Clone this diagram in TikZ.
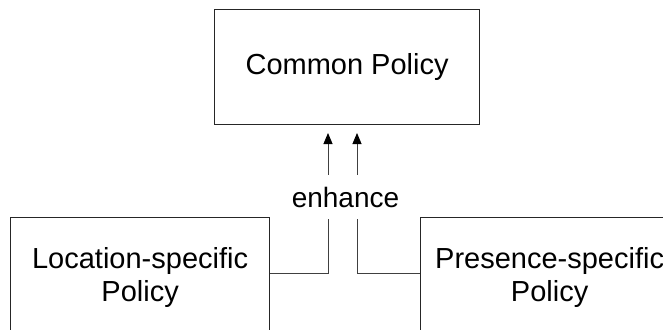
\documentclass[tikz,border=0pt]{standalone}
\usepackage{fontspec}
\setmainfont{Liberation Sans}
\usetikzlibrary{arrows.meta}
\begin{document}
\begin{tikzpicture}[x=1pt,y=-1pt,
  policy/.style={draw=black!85, line width=1.2pt, fill=white, anchor=north west,
    align=center, font=\fontsize{29}{33}\selectfont, inner sep=0pt},
  conn/.style={draw=black!75, line width=0.9pt},
  enh/.style={conn, -{Triangle[length=11pt,width=9pt,color=black,fill=black]}},
  lbl/.style={fill=white, inner xsep=4pt, inner ysep=12pt,
    font=\fontsize{28}{32}\selectfont}]
  \clip (0,0) rectangle (663,329);
  \fill[white] (0,0) rectangle (663,329);

  % policy boxes
  \node[policy, minimum width=265pt, minimum height=115pt] (common) at (214,9) {Common Policy};
  \node[policy, minimum width=259pt, minimum height=120pt] (loc) at (10,217) {Location-specific\\Policy};
  \node[policy, minimum width=258pt, minimum height=120pt] (pres) at (420,217) {Presence-specific\\Policy};

  % bends and free arrow ends
  \coordinate (bendL) at (328,273);
  \coordinate (bendR) at (357,273);
  \coordinate (tipL) at (328,133);
  \coordinate (tipR) at (357,133);

  % connectors
  \draw[enh] (loc.east |- bendL) -- (bendL) -- (tipL);
  \draw[enh] (pres.west |- bendR) -- (bendR) -- (tipR);

  % label across both connectors
  \node[lbl] (enhance) at (345.5,197) {enhance};
\end{tikzpicture}
\end{document}
